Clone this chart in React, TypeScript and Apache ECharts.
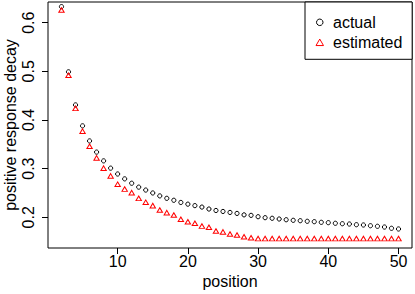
import React, { useEffect, useRef } from "react";
import * as echarts from "echarts";

const positions = [
  2, 3, 4, 5, 6, 7, 8, 9, 10, 11, 12, 13, 14, 15, 16, 17, 18, 19, 20, 21, 22, 23, 24, 25, 26,
  27, 28, 29, 30, 31, 32, 33, 34, 35, 36, 37, 38, 39, 40, 41, 42, 43, 44, 45, 46, 47, 48, 49, 50,
];

const actual = [
  0.633, 0.499, 0.431, 0.388, 0.357, 0.334, 0.316, 0.301, 0.289, 0.279, 0.27, 0.262, 0.256,
  0.25, 0.244, 0.239, 0.235, 0.2305, 0.227, 0.224, 0.221, 0.217, 0.214, 0.212, 0.21, 0.208,
  0.205, 0.204, 0.2012, 0.1992, 0.198, 0.1965, 0.195, 0.1938, 0.193, 0.1918, 0.191, 0.1897,
  0.189, 0.1877, 0.1868, 0.1862, 0.1848, 0.1842, 0.1827, 0.1815, 0.18, 0.1774, 0.176,
];

const estimated = [
  0.626, 0.492, 0.424, 0.377, 0.346, 0.322, 0.301, 0.285, 0.268, 0.258, 0.2506, 0.239, 0.231,
  0.224, 0.215, 0.2095, 0.2047, 0.196, 0.1908, 0.1877, 0.182, 0.1795, 0.1718, 0.17, 0.1657,
  0.1636, 0.16, 0.158, 0.1562, 0.1562, 0.1562, 0.1562, 0.1562, 0.1562, 0.1562, 0.1562, 0.1562,
  0.1562, 0.1562, 0.1562, 0.1562, 0.1562, 0.1562, 0.1562, 0.1562, 0.1562, 0.1562, 0.1562,
  0.1562,
];

const xTicks = [10, 20, 30, 40, 50];
const yTicks = [0.2, 0.3, 0.4, 0.5, 0.6];

const FONT = '"Liberation Sans", Arial, Helvetica, sans-serif';

export default function App() {
  const ref = useRef<HTMLDivElement>(null);

  useEffect(() => {
    if (!ref.current) return;
    const chart = echarts.init(ref.current, undefined, { renderer: "svg" });
    const actualData = positions.map((p, i) => [p, actual[i]]);
    const estData = positions.map((p, i) => [p, estimated[i]]);
    chart.setOption({
      animation: false,
      backgroundColor: "#fff",
      textStyle: { fontFamily: FONT },
      grid: {
        left: 48,
        top: 2,
        right: 3,
        bottom: 46,
        show: true,
        borderColor: "#000",
        borderWidth: 1,
        backgroundColor: "transparent",
        containLabel: false,
        outerBoundsMode: "none",
      },
      xAxis: {
        type: "value",
        min: 0.08,
        max: 51.92,
        name: "position",
        nameLocation: "middle",
        nameGap: 25,
        nameMoveOverlap: false,
        nameTextStyle: { color: "#000", fontSize: 16, fontFamily: FONT },
        axisLine: { show: false },
        splitLine: { show: false },
        axisTick: {
          show: true,
          inside: false,
          length: 6,
          customValues: xTicks,
          lineStyle: { color: "#000", width: 1 },
        },
        axisLabel: {
          customValues: xTicks,
          margin: 5,
          color: "#000",
          fontSize: 16,
          fontFamily: FONT,
        },
      },
      yAxis: {
        type: "value",
        min: 0.1369,
        max: 0.6425,
        name: "positive response decay",
        nameLocation: "middle",
        nameGap: 30,
        nameMoveOverlap: false,
        nameTextStyle: { color: "#000", fontSize: 16, lineHeight: 16, fontFamily: FONT },
        axisLine: { show: false },
        splitLine: { show: false },
        axisTick: {
          show: true,
          inside: false,
          length: 6,
          customValues: yTicks,
          lineStyle: { color: "#000", width: 1 },
        },
        axisLabel: {
          customValues: yTicks,
          rotate: 90,
          margin: 12,
          color: "#000",
          fontSize: 16,
          fontFamily: FONT,
          formatter: (v: number) => v.toFixed(1),
        },
      },
      legend: {
        left: 305,
        top: 2,
        orient: "vertical",
        padding: [12.3, 9.8, 9, 10.5],
        itemGap: 4,
        itemWidth: 7.5,
        itemHeight: 6.5,
        borderColor: "#000",
        borderWidth: 1,
        backgroundColor: "#fff",
        textStyle: {
          color: "#000",
          fontSize: 16,
          lineHeight: 16,
          fontFamily: FONT,
          padding: [0, 0, 0, 4.5],
        },
        data: [
          {
            name: "actual",
            icon: "circle",
            itemStyle: { color: "transparent", borderColor: "#000", borderWidth: 1 },
          },
          {
            name: "estimated",
            icon: "triangle",
            itemStyle: { color: "transparent", borderColor: "#ff0000", borderWidth: 1 },
          },
        ],
      },
      series: [
        {
          name: "actual",
          type: "scatter",
          symbol: "circle",
          symbolSize: 4.2,
          itemStyle: { color: "transparent", borderColor: "#000", borderWidth: 1, opacity: 1 },
          data: actualData,
        },
        {
          name: "estimated",
          type: "scatter",
          symbol: "triangle",
          symbolSize: [5.4, 4.6],
          itemStyle: { color: "transparent", borderColor: "#ff0000", borderWidth: 1, opacity: 1 },
          data: estData,
        },
      ],
    });
    return () => chart.dispose();
  }, []);

  return (
    <div
      ref={ref}
      style={{ position: "fixed", left: 0, top: 0, width: 415, height: 294 }}
    />
  );
}
